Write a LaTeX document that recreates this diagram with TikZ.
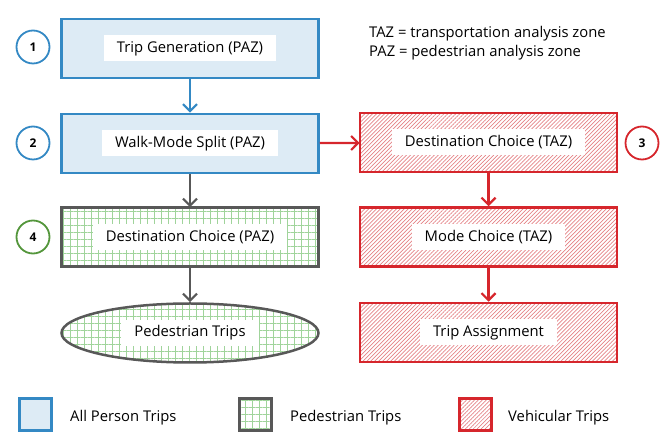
\documentclass[tikz,border=0pt]{standalone}
\usepackage{fontspec}
\setmainfont{Open Sans}
\usetikzlibrary{patterns.meta,arrows.meta,shapes.geometric}
\definecolor{blueLine}{RGB}{52,137,196}
\definecolor{blueFill}{RGB}{221,235,245}
\definecolor{grayLine}{RGB}{88,88,88}
\definecolor{greenGrid}{RGB}{160,212,155}
\definecolor{greenLine}{RGB}{84,150,60}
\definecolor{redLine}{RGB}{214,38,44}
\definecolor{redHatch}{RGB}{228,130,134}
\tikzset{
  boxAll/.style={draw, line width=2.5pt, minimum width=257pt, minimum height=59pt},
  boxA/.style={draw=blueLine, fill=blueFill},
  boxB/.style={draw=grayLine, pattern={Hatch[distance=7pt,line width=0.6pt]}, pattern color=greenGrid},
  boxC/.style={draw=redLine, pattern={Lines[angle=45,distance=2.8pt,line width=0.7pt]}, pattern color=redHatch},
  labelAll/.style={fill=white, inner xsep=13pt, minimum height=26pt, font=\fontsize{14.8}{16}\selectfont},
  numAll/.style={circle, draw, line width=1.8pt, minimum size=33pt, font=\bfseries\fontsize{12}{14}\selectfont},
  keyAll/.style={draw, line width=3pt, minimum width=32pt, minimum height=32pt},
  keyText/.style={anchor=west, inner sep=0pt, font=\fontsize{14.8}{16}\selectfont},
  arrowAll/.style={line width=2.2pt, -{Straight Barb[length=7pt,width=14pt]}}
}

\begin{document}
\begin{tikzpicture}[x=1pt, y=-1pt]
  \useasboundingbox (0,0) rectangle (670,435);

  \node[boxAll, boxA] (TG) at (190,48.5) {};
  \node[boxAll, boxA] (WS) at (190,143.5) {};
  \node[boxAll, boxB] (DP) at (190,237) {};
  \node[boxAll, boxB, ellipse] (PT) at (190,333) {};
  \node[boxAll, boxC] (DT) at (488.5,142.5) {};
  \node[boxAll, boxC] (MC) at (488.5,237) {};
  \node[boxAll, boxC] (TA) at (488.5,332.5) {};

  \node[labelAll] (TG-l) at (TG) {Trip Generation (PAZ)};
  \node[labelAll] (WS-l) at (WS) {Walk-Mode Split (PAZ)};
  \node[labelAll] (DP-l) at (DP) {Destination Choice (PAZ)};
  \node[labelAll] (PT-l) at (PT) {Pedestrian Trips};
  \node[labelAll] (DT-l) at (DT) {Destination Choice (TAZ)};
  \node[labelAll] (MC-l) at (MC) {Mode Choice (TAZ)};
  \node[labelAll] (TA-l) at (TA) {Trip Assignment};

  \node[numAll, draw=blueLine] (N1) at (33,47) {1};
  \node[numAll, draw=blueLine] (N2) at (33,143) {2};
  \node[numAll, draw=redLine] (N3) at (642,143) {3};
  \node[numAll, draw=greenLine] (N4) at (33,237) {4};

  \node[anchor=north west, align=left, inner sep=0pt, font=\fontsize{14.8}{19}\selectfont] (zones) at (369,26)
    {TAZ = transportation analysis zone\\PAZ = pedestrian analysis zone};

  \path[arrowAll]
    (TG) edge[draw=blueLine] (WS)
    (WS) edge[draw=grayLine] (DP)
    (DP) edge[draw=grayLine] (PT)
    (WS) edge[draw=redLine] (DT)
    (DT) edge[draw=redLine] (MC)
    (MC) edge[draw=redLine] (TA);

  \node[keyAll, boxA] (K1) at (35.5,414.5) {};
  \node[keyAll, boxB] (K2) at (255.5,414.5) {};
  \node[keyAll, boxC] (K3) at (475,415) {};
  \node[keyText] (K1-t) at (70,418) {All Person Trips};
  \node[keyText] (K2-t) at (290,418) {Pedestrian Trips};
  \node[keyText] (K3-t) at (508,418) {Vehicular Trips};
\end{tikzpicture}
\end{document}
